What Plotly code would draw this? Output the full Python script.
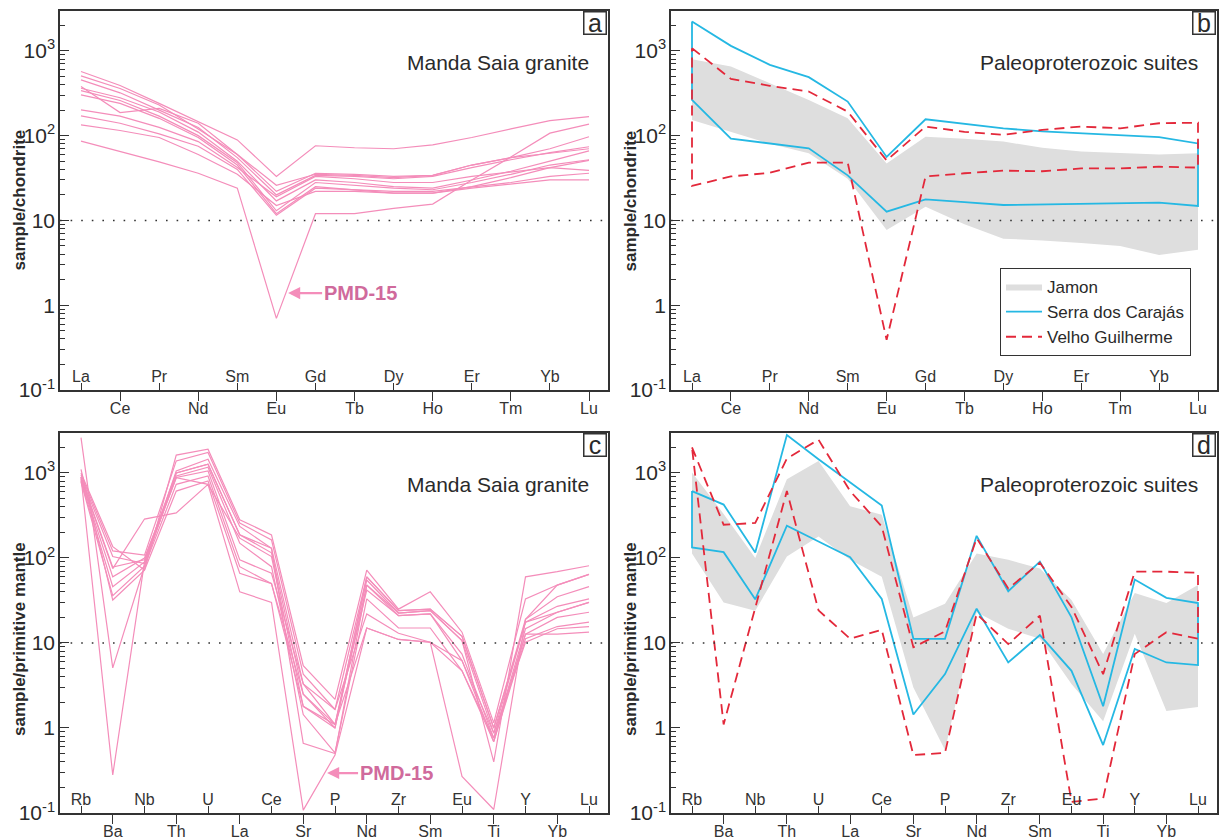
import math
import plotly.graph_objects as go

# ---------------- data ----------------
REE = ["La", "Ce", "Pr", "Nd", "Sm", "Eu", "Gd", "Tb", "Dy", "Ho", "Er", "Tm", "Yb", "Lu"]
SPIDER = ["Rb", "Ba", "Nb", "Th", "U", "La", "Ce", "Sr", "P", "Nd", "Zr", "Sm", "Eu", "Ti", "Y", "Yb", "Lu"]

# panel a: Manda Saia granite, chondrite-normalised REE
ms_ree_1 = [570, 390, 240, 146, 89, 33, 76, 72, 70, 78, 95, 120, 150, 168]
ms_ree_2 = [507, 360, 230, 120, 60, 22, 36, 35, 33, 34, 45, 55, 70, 97]
ms_ree_3 = [454, 320, 200, 125, 55, 20, 34, 33, 31, 33, 42, 52, 63, 74]
ms_ree_4 = [379, 187, 210, 140, 60, 26, 35, 34, 32, 34, 45, 55, 62, 70]
ms_ree_5 = [362, 280, 190, 110, 50, 17, 30, 28, 25, 24, 30, 38, 50, 66]
ms_ree_6 = [340, 260, 170, 100, 48, 13, 28, 26, 24, 23, 28, 35, 45, 52]
ms_ree_7 = [302, 240, 160, 95, 45, 12, 25, 23, 21, 21, 25, 32, 42, 51]
ms_ree_8 = [201, 170, 125, 85, 42, 19, 33, 31, 28, 28, 33, 37, 42, 39]
ms_ree_9 = [171, 140, 105, 75, 40, 11.5, 24, 23, 22, 22, 25, 28, 33, 36]
ms_ree_10 = [134, 115, 95, 60, 35, 15, 22, 22, 21, 21, 24, 27, 30, 30]
ms_ree_pmd15 = [86, 65, 49, 36, 24, 0.7, 12, 12, 13.9, 15.6, 30, 56, 107, 137]

# panel b: Paleoproterozoic suites (REE envelopes)
jamon_ree_upper = [797, 653, 415, 264, 160, 47, 97, 92, 85, 72, 65, 62, 60, 62]
jamon_ree_lower = [153, 111, 80, 62, 31, 7.7, 14.5, 9, 6.1, 5.8, 5.4, 5, 3.9, 4.5]
carajas_ree_upper = [2220, 1145, 684, 489, 252, 56, 156, 138, 122, 112, 106, 100, 96, 81]
carajas_ree_lower = [264, 92, 80, 71, 34, 12.7, 17.7, 16.4, 15.2, 15.4, 15.6, 16, 16.2, 14.8]
velho_ree_upper = [1075, 467, 387, 331, 192, 51, 128, 111, 102, 117, 128, 122, 140, 142]
velho_ree_lower = [25.5, 33, 36.5, 48, 48, 0.39, 33, 36, 38.6, 38, 41, 41, 43, 42]

# panel c: Manda Saia granite, primitive-mantle-normalised
ms_sp_1 = [1000, 136, 72, 1620, 1906, 282, 187, 5.4, 2.17, 72, 25, 40, 13.4, 1.15, 33, 48, 64]
ms_sp_2 = [950, 121, 108, 1387, 1742, 258, 163, 4.3, 1.65, 60, 24, 25, 12, 1.0, 19, 35, 46]
ms_sp_3 = [900, 104, 86, 1057, 1452, 235, 130, 3.3, 1.1, 55, 22.5, 24, 10.7, 0.87, 17.6, 27, 33]
ms_sp_4 = [880, 78, 95, 1000, 1267, 187, 115, 2.5, 1.0, 48, 21, 22, 7.4, 0.76, 14.7, 23, 30]
ms_sp_5 = [850, 75, 287, 339, 734, 171, 104, 1.8, 1.1, 42, 21, 22, 6.2, 0.69, 12.7, 20, 23]
ms_sp_6 = [820, 60, 100, 921, 1170, 149, 79, 1.44, 0.51, 33, 15, 15, 4.7, 0.69, 11.2, 15.6, 17.6]
ms_sp_7 = [800, 46, 90, 884, 1057, 95, 66, 3.3, 1.65, 22, 13, 10.2, 6.2, 0.87, 10.2, 14.7, 15.6]
ms_sp_8 = [780, 36, 80, 734, 921, 79, 50, 2.5, 1.1, 15, 11, 10.2, 4.7, 0.76, 12.7, 12.7, 13.4]
ms_sp_9 = [1100, 32, 72, 612, 804, 66, 50, 1.8, 1.0, 60, 24, 25, 12, 1.0, 17.6, 23, 30]
ms_sp_10 = [2600, 5.1, 80, 1000, 1267, 187, 130, 0.66, 0.5, 48, 22.5, 24, 10.7, 0.4, 60, 69, 81]
ms_sp_pmd15 = [900, 0.28, 90, 880, 734, 40, 30, 0.108, 0.48, 15, 11, 10.2, 0.27, 0.11, 19, 48, 64]

# panel d: Paleoproterozoic suites (spider envelopes)
jamon_sp_upper = [1009, 330, 100, 841, 1387, 406, 323, 20, 29, 113, 95, 75, 32, 7.4, 38.8, 29.5, 48]
jamon_sp_lower = [113, 30, 24, 104, 179, 95, 60, 3, 0.55, 23, 14.7, 11.2, 3.3, 1.2, 12.8, 1.58, 1.76]
carajas_sp_upper = [612, 425, 116, 2797, 1452, 768, 414, 11.2, 11.2, 182, 40.6, 90.5, 20, 1.8, 55.8, 34, 29.5]
carajas_sp_lower = [133, 117, 32.6, 240, 156, 102, 33, 1.44, 4.3, 25.3, 5.9, 12.4, 4.7, 0.63, 8.5, 5.9, 5.5]
velho_sp_upper = [1995, 246, 258, 1479, 2462, 612, 235, 8.9, 13.7, 171, 43.7, 88, 26.5, 4.3, 68.9, 69, 67]
velho_sp_lower = [1995, 1.1, 25.3, 612, 24.2, 11.2, 14.3, 0.48, 0.51, 22, 9.7, 21, 0.135, 0.148, 7.4, 13.4, 11.2]

# PMD-15 label anchor points (element position, normalised value)
pmd_a_anchor = (5.3, 1.39)
pmd_c_anchor = (7.75, 0.295)

# ---------------- style ----------------
W, H = 1225, 839
FONT = "Liberation Sans, Arial, sans-serif"
PINK = "#F48DBA"
CYAN = "#25B8E3"
RED = "#E3283A"
GRAY = "#DEDEDE"
INK = "#2a2a2a"

# pixel geometry of the four plot areas (left, right, top, bottom)
boxes = {
    1: (60, 608, 11, 390),
    2: (671, 1217, 11, 390),
    3: (60, 608, 433, 813),
    4: (671, 1217, 433, 813),
}

fig = go.Figure()


def ax(n):
    return ("x" if n == 1 else f"x{n}"), ("y" if n == 1 else f"y{n}")


def add_line(n, names, vals, color, dash=None, width=1.2, name=None, legend=False):
    xa, ya = ax(n)
    fig.add_trace(go.Scatter(
        x=list(range(len(names))), y=vals, mode="lines", xaxis=xa, yaxis=ya,
        line=dict(color=color, width=width, dash=dash),
        name=name, showlegend=legend, hoverinfo="skip"))


def add_envelope(n, names, upper, lower, color, dash=None, fill=False, name=None, legend=False, width=1.8):
    xa, ya = ax(n)
    idx = list(range(len(names)))
    xs = idx + idx[::-1] + [idx[0]]
    ys = list(upper) + list(lower)[::-1] + [upper[0]]
    if fill:
        fig.add_trace(go.Scatter(
            x=xs, y=ys, mode="lines", xaxis=xa, yaxis=ya, fill="toself",
            fillcolor=color, line=dict(width=0, color=color),
            name=name, showlegend=legend, hoverinfo="skip"))
    else:
        fig.add_trace(go.Scatter(
            x=xs, y=ys, mode="lines", xaxis=xa, yaxis=ya,
            line=dict(color=color, width=width, dash=dash),
            name=name, showlegend=legend, hoverinfo="skip"))


# panel a
for s in [ms_ree_1, ms_ree_2, ms_ree_3, ms_ree_4, ms_ree_5, ms_ree_6, ms_ree_7,
          ms_ree_8, ms_ree_9, ms_ree_10, ms_ree_pmd15]:
    add_line(1, REE, s, PINK)

# panel b
add_envelope(2, REE, jamon_ree_upper, jamon_ree_lower, GRAY, fill=True, name="Jamon", legend=True)
add_envelope(2, REE, carajas_ree_upper, carajas_ree_lower, CYAN, name="Serra dos Carajás", legend=True)
add_envelope(2, REE, velho_ree_upper, velho_ree_lower, RED, dash="10px,6px", name="Velho Guilherme", legend=True)

# panel c
for s in [ms_sp_1, ms_sp_2, ms_sp_3, ms_sp_4, ms_sp_5, ms_sp_6, ms_sp_7,
          ms_sp_8, ms_sp_9, ms_sp_10, ms_sp_pmd15]:
    add_line(3, SPIDER, s, PINK)

# panel d
add_envelope(4, SPIDER, jamon_sp_upper, jamon_sp_lower, GRAY, fill=True)
add_envelope(4, SPIDER, carajas_sp_upper, carajas_sp_lower, CYAN)
add_envelope(4, SPIDER, velho_sp_upper, velho_sp_lower, RED, dash="10px,6px")

# ---------------- axes ----------------
ytickvals = [0.1, 1, 10, 100, 1000]
yticktext = ["10<sup>-1</sup>", "1", "10", "10<sup>2</sup>", "10<sup>3</sup>"]
minor_vals = [m * 10 ** e for e in range(-1, 4) for m in range(2, 10) if m * 10 ** e < 3000]

layout = dict(
    width=W, height=H, margin=dict(l=0, r=0, t=0, b=0, pad=0, autoexpand=False),
    paper_bgcolor="white", plot_bgcolor="white",
    font=dict(family=FONT, color=INK),
    showlegend=True,
    legend=dict(
        x=1000 / W, y=1 - 268 / H, xanchor="left", yanchor="top",
        bgcolor="white", bordercolor="#333", borderwidth=1,
        font=dict(size=17, family=FONT, color=INK),
        itemwidth=36, tracegroupgap=0,
    ),
)

annotations = []
shapes = []

for n, (l, r, t, b) in boxes.items():
    names = REE if n in (1, 2) else SPIDER
    npts = len(names)
    first_px = l + 21
    last_px = r - 19
    step = (last_px - first_px) / (npts - 1)
    xr = [-(first_px - l) / step, (npts - 1) + (r - last_px) / step]
    xdom = [l / W, r / W]
    ydom = [1 - b / H, 1 - t / H]
    xa, ya = ax(n)
    xkey = "xaxis" if n == 1 else f"xaxis{n}"
    ykey = "yaxis" if n == 1 else f"yaxis{n}"
    lower_row = list(range(1, npts, 2))
    upper_row = list(range(0, npts, 2))
    layout[xkey] = dict(
        domain=xdom, anchor=ya, range=xr, showgrid=False, zeroline=False,
        showline=True, linecolor="#333", linewidth=1.5, mirror=True,
        tickmode="array", tickvals=lower_row, ticktext=[names[i] for i in lower_row],
        ticks="outside", ticklen=9, tickcolor="#333", tickwidth=1.2,
        ticklabelstandoff=-6, automargin=False,
        tickfont=dict(size=16, family=FONT, color="#333"),
    )
    layout[ykey] = dict(
        domain=ydom, anchor=xa, type="log", range=[-1, 3.47],
        showgrid=False, zeroline=False,
        showline=True, linecolor="#333", linewidth=1.5, mirror=True,
        tickmode="array", tickvals=ytickvals, ticktext=yticktext,
        ticks="inside", ticklen=9, tickcolor="#333", tickwidth=1.2,
        ticklabelstandoff=-1, automargin=False,
        tickfont=dict(size=21, family=FONT, color=INK),
        minor=dict(tickmode="array", tickvals=minor_vals, ticks="inside",
                   ticklen=5, tickcolor="#333", tickwidth=1, showgrid=False),
    )
    # overlay axis carrying the alternate element labels (drawn above the axis line)
    ov = n + 4
    okey = f"xaxis{ov}"
    layout[okey] = dict(
        overlaying=xa, anchor=ya, range=xr, side="bottom",
        showgrid=False, zeroline=False, showline=False, automargin=False,
        tickmode="array", tickvals=upper_row, ticktext=[names[i] for i in upper_row],
        ticks="inside", ticklen=7, tickcolor="#333", tickwidth=1.2,
        ticklabelstandoff=-25,
        tickfont=dict(size=16, family=FONT, color="#333"),
    )
    fig.add_trace(go.Scatter(x=upper_row, y=[None] * len(upper_row), mode="lines",
                             xaxis=f"x{ov}", yaxis=ya, showlegend=False, hoverinfo="skip"))
    # dotted reference line at 10
    shapes.append(dict(type="line", xref=f"{xa} domain", yref=ya, x0=0, x1=1, y0=10, y1=10,
                       line=dict(color="#333", width=1.6, dash="1.6px,9px")))
    # panel letter
    annotations.append(dict(
        text="abcd"[n - 1], xref=f"{xa} domain", yref=f"{ya} domain", x=1, y=1,
        xanchor="right", yanchor="top", showarrow=False, xshift=-1, yshift=0,
        font=dict(size=25, family=FONT, color=INK),
        bordercolor="#333", borderwidth=1.5, bgcolor="white", width=21, height=21, borderpad=0,
    ))
    # panel title
    title = "Manda Saia granite" if n in (1, 3) else "Paleoproterozoic suites"
    ty = (b - (t + 51)) / (b - t)
    annotations.append(dict(
        text=title, xref=f"{xa} domain", yref=f"{ya} domain",
        x=(r - 17 - l) / (r - l), y=ty,
        xanchor="right", yanchor="middle", showarrow=False,
        font=dict(size=21, family=FONT, color=INK),
    ))
    # vertical axis title
    ytitle = "sample/chondrite" if n in (1, 2) else "sample/primitive mantle"
    ymid = (t + b) / 2 + (0 if n in (1, 2) else 16)
    annotations.append(dict(
        text=f"<b>{ytitle}</b>", xref="paper", yref="paper",
        x=(l - 41) / W, y=1 - ymid / H, textangle=-90,
        xanchor="center", yanchor="middle", showarrow=False,
        font=dict(size=17, family=FONT, color=INK),
    ))

# PMD-15 labels (annotation y on log axes is given in log10 units)
for xa, ya, (px, pv), shift in [("x", "y", pmd_a_anchor, 34), ("x3", "y3", pmd_c_anchor, 31)]:
    annotations.append(dict(
        text="<b>PMD-15</b>", xref=xa, yref=ya, x=px, y=math.log10(pv), ax=shift, ay=0,
        axref="pixel", ayref="pixel", xanchor="left", showarrow=True,
        arrowhead=2, arrowsize=1.1, arrowwidth=2.2, arrowcolor=PINK, standoff=0,
        font=dict(size=20, family=FONT, color="#D06A9C"),
    ))

layout["annotations"] = annotations
layout["shapes"] = shapes
fig.update_layout(**layout)

# remove the browser's default page margin so the figure sits at the window origin
fig.write_html("out.html", config={"displayModeBar": False},
               post_script="document.body.style.margin='0px';")
